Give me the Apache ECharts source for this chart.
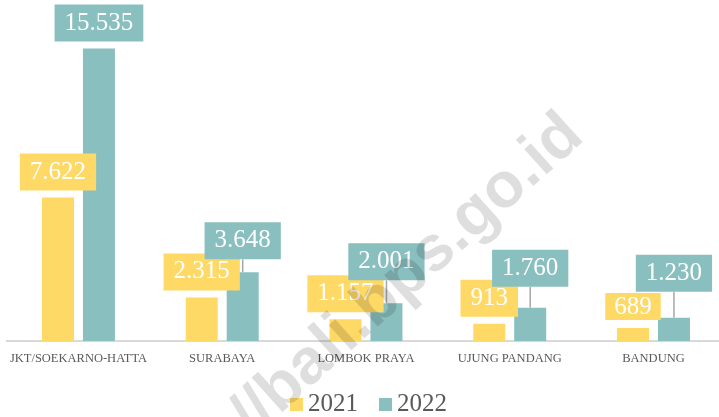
<!DOCTYPE html>
<html>
<head>
<meta charset="utf-8">
<script src="https://cdn.jsdelivr.net/npm/echarts@6/dist/echarts.min.js"></script>
<style>
  html, body { margin: 0; padding: 0; background: #fff; overflow: hidden; }
  /* chart runs a few px past the right edge, like the original */
  #chart { width: 726px; height: 417px; }
</style>
</head>
<body>
<div id="chart"></div>
<script>
// bandara asal
const categories = ['JKT/SOEKARNO-HATTA', 'SURABAYA', 'LOMBOK PRAYA', 'UJUNG PANDANG', 'BANDUNG']
const years = ['2021', '2022']
const values2021 = [7622, 2315, 1157, 913, 689]
const values2022 = [15535, 3648, 2001, 1760, 1230]

// extra lift of the 2022 labels (with leader lines)
const lift2022 = [0, 6, 16, 14, 19]

const YELLOW = '#FFD966'
const TEAL = '#8ABFC0'
const SERIF = '"Liberation Serif", "DejaVu Serif", serif'

const fmt = (v) => v.toLocaleString('de-DE')

const chart = echarts.init(document.getElementById('chart'))

const barLabel = (color) => ({
  show: true,
  position: 'top',
  distance: 7,
  formatter: (p) => fmt(p.value),
  color: '#fff',
  fontFamily: SERIF,
  fontSize: 25,
  lineHeight: 25,
  backgroundColor: color,
  padding: [6, 10, 6, 10]
})

// last 2021 label box is squashed in the original
const data2021 = values2021.map((v, i) =>
  i === values2021.length - 1 ? { value: v, label: { padding: [2, 9, 0, 9], distance: 8 } } : v
)
// no leader line where the label was not moved
const data2022 = values2022.map((v, i) =>
  lift2022[i] ? v : { value: v, labelLine: { show: false } }
)

const option = {
  animation: false,
  grid: { left: 6.6, top: 21, width: 718.75, height: 320 },
  legend: {
    data: years,
    left: 290,
    top: 392,
    padding: 0,
    icon: 'rect',
    itemWidth: 13,
    itemHeight: 13,
    itemGap: 21,
    textStyle: { color: '#595959', fontFamily: SERIF, fontSize: 25 }
  },
  xAxis: {
    type: 'category',
    data: categories,
    axisLine: { lineStyle: { color: '#d9d9d9', width: 2 } },
    axisTick: { show: false },
    axisLabel: { color: '#595959', fontFamily: SERIF, fontSize: 12.5, margin: 11, interval: 0 }
  },
  yAxis: {
    type: 'value',
    min: 0,
    max: 17000,
    show: false
  },
  graphic: [
    {
      type: 'text',
      x: 574,
      y: 126,
      rotation: 42 * Math.PI / 180,
      z: 100,
      silent: true,
      style: {
        text: 'https://bali.bps.go.id',
        font: 'bold 64px "Liberation Sans", Arial, sans-serif',
        fill: 'rgba(0,0,0,0.13)',
        align: 'right',
        verticalAlign: 'middle'
      }
    }
  ],
  series: [
    {
      name: '2021',
      type: 'bar',
      data: data2021,
      barWidth: 32,
      barGap: '28%',
      itemStyle: { color: YELLOW },
      label: barLabel(YELLOW)
    },
    {
      name: '2022',
      type: 'bar',
      data: data2022,
      barWidth: 32,
      itemStyle: { color: TEAL },
      label: barLabel(TEAL),
      labelLayout: (p) => ({ dy: -lift2022[p.dataIndex] }),
      labelLine: { show: true, lineStyle: { color: '#a6a6a6', width: 1.5 } }
    }
  ]
}

chart.setOption(option)
</script>
</body>
</html>
